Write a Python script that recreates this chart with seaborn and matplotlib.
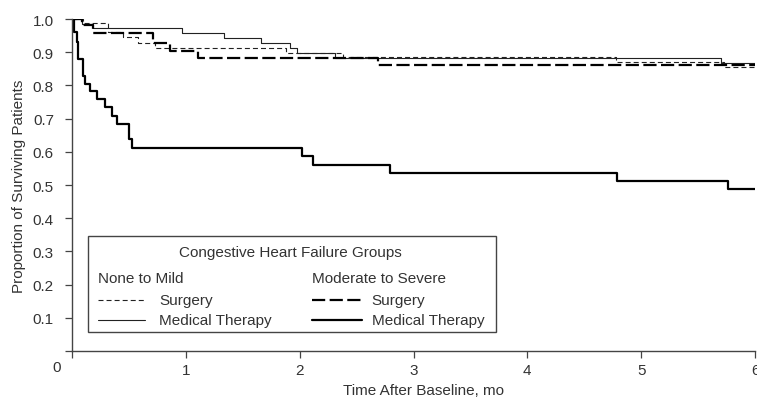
import matplotlib
matplotlib.use("Agg")
import matplotlib.pyplot as plt
import seaborn as sns
import pandas as pd
from matplotlib.lines import Line2D
from matplotlib.patches import Rectangle

# ---- data ----
t_nm_surg = [0.0, 0.094, 0.32, 0.45, 0.58, 0.73, 1.88, 2.38, 4.78, 5.73, 6.0]
s_nm_surg = [1.0, 0.987, 0.962, 0.945, 0.927, 0.913, 0.899, 0.885, 0.870, 0.854, 0.854]

t_nm_med = [0.0, 0.085, 0.187, 0.962, 1.333, 1.660, 1.918, 1.980, 2.310, 5.70, 6.0]
s_nm_med = [1.0, 0.985, 0.973, 0.957, 0.942, 0.928, 0.914, 0.899, 0.884, 0.868, 0.868]

t_ms_surg = [0.0, 0.09, 0.187, 0.713, 0.86, 1.11, 2.69, 6.0]
s_ms_surg = [1.0, 0.982, 0.957, 0.928, 0.904, 0.884, 0.861, 0.861]

t_ms_med = [0.0, 0.02, 0.04, 0.055, 0.094, 0.114, 0.158, 0.216, 0.289, 0.348,
            0.392, 0.503, 0.523, 2.02, 2.12, 2.79, 4.79, 5.76, 6.0]
s_ms_med = [1.0, 0.96, 0.93, 0.88, 0.829, 0.804, 0.784, 0.759, 0.734, 0.709,
            0.684, 0.639, 0.611, 0.586, 0.561, 0.536, 0.511, 0.488, 0.488]

x_ticks = [0, 1, 2, 3, 4, 5, 6]
x_tick_labels = ["", "1", "2", "3", "4", "5", "6"]
y_ticks = [0.0, 0.1, 0.2, 0.3, 0.4, 0.5, 0.6, 0.7, 0.8, 0.9, 1.0]
y_tick_labels = ["", "0.1", "0.2", "0.3", "0.4", "0.5", "0.6", "0.7", "0.8", "0.9", "1.0"]

legend_title = "Congestive Heart Failure Groups"
group_names = ["None to Mild", "Moderate to Severe"]
arm_names = ["Surgery", "Medical Therapy"]

# ---- style ----
sns.set_style("ticks")
plt.rcParams["font.family"] = ["Liberation Sans", "DejaVu Sans"]
plt.rcParams["lines.scale_dashes"] = False
TXT = "#333333"
AX = "#444444"

fig = plt.figure(figsize=(7.57, 4.02), dpi=100)
ax = fig.add_axes([72 / 757, 1 - 352 / 402, 683 / 757, 332 / 402])

styles = [
    (t_nm_surg, s_nm_surg, dict(color="#222222", linewidth=0.8, dashes=(3.6, 2.2))),
    (t_nm_med, s_nm_med, dict(color="#222222", linewidth=0.8)),
    (t_ms_surg, s_ms_surg, dict(color="black", linewidth=1.6, dashes=(9.5, 3.2))),
    (t_ms_med, s_ms_med, dict(color="black", linewidth=1.6)),
]
for t, s, kw in styles:
    df = pd.DataFrame({"t": t, "s": s})
    sns.lineplot(data=df, x="t", y="s", ax=ax, drawstyle="steps-post",
                 estimator=None, sort=False, errorbar=None, **kw)

ax.set_xlim(0, 6)
ax.set_ylim(0, 1.0)
ax.set_xticks(x_ticks)
ax.set_xticklabels(x_tick_labels)
ax.set_yticks(y_ticks)
ax.set_yticklabels(y_tick_labels)
ax.tick_params(axis="both", direction="out", length=5, width=0.9, color=AX,
               labelsize=11, labelcolor=TXT)
ax.tick_params(axis="y", pad=8)
ax.tick_params(axis="x", pad=4)
for sp in ["top", "right"]:
    ax.spines[sp].set_visible(False)
for sp in ["left", "bottom"]:
    ax.spines[sp].set_color(AX)
    ax.spines[sp].set_linewidth(1.0)

ax.set_xlabel("Time After Baseline, mo", fontsize=11, color=TXT)
ax.set_ylabel("Proportion of Surviving Patients", fontsize=11, color=TXT)
ax.xaxis.set_label_coords(0.515, -0.095)
ax.yaxis.set_label_coords(-0.068, 0.5)
ax.text(-0.022, -0.048, "0", transform=ax.transAxes, ha="center", va="center",
        fontsize=11, color=TXT)

# ---- legend (drawn as a box with keys) ----
tr = ax.transAxes
ax.add_patch(Rectangle((0.0234, 0.0572), 0.5976, 0.2892, transform=tr,
                       fill=True, facecolor="white", edgecolor=AX, linewidth=1.0,
                       zorder=5))
ax.text(0.319, 0.298, legend_title, transform=tr, ha="center", va="center",
        fontsize=11, color=TXT, zorder=6)
cols = [(0.0385, 0.1069, 0.1274), (0.351, 0.424, 0.4388)]
rows = [0.1536, 0.0943]
for gi, (hx, lx1, tx) in enumerate(cols):
    ax.text(hx, 0.220, group_names[gi], transform=tr, ha="left", va="center",
            fontsize=11, color=TXT, zorder=6)
    for ai, ry in enumerate(rows):
        kw = styles[gi * 2 + ai][2]
        ln = Line2D([hx, lx1], [ry, ry], transform=tr, zorder=6, **kw)
        ax.add_line(ln)
        ax.text(tx, ry, arm_names[ai], transform=tr, ha="left", va="center",
                fontsize=11, color=TXT, zorder=6)

fig.savefig("out.png", dpi=100)
